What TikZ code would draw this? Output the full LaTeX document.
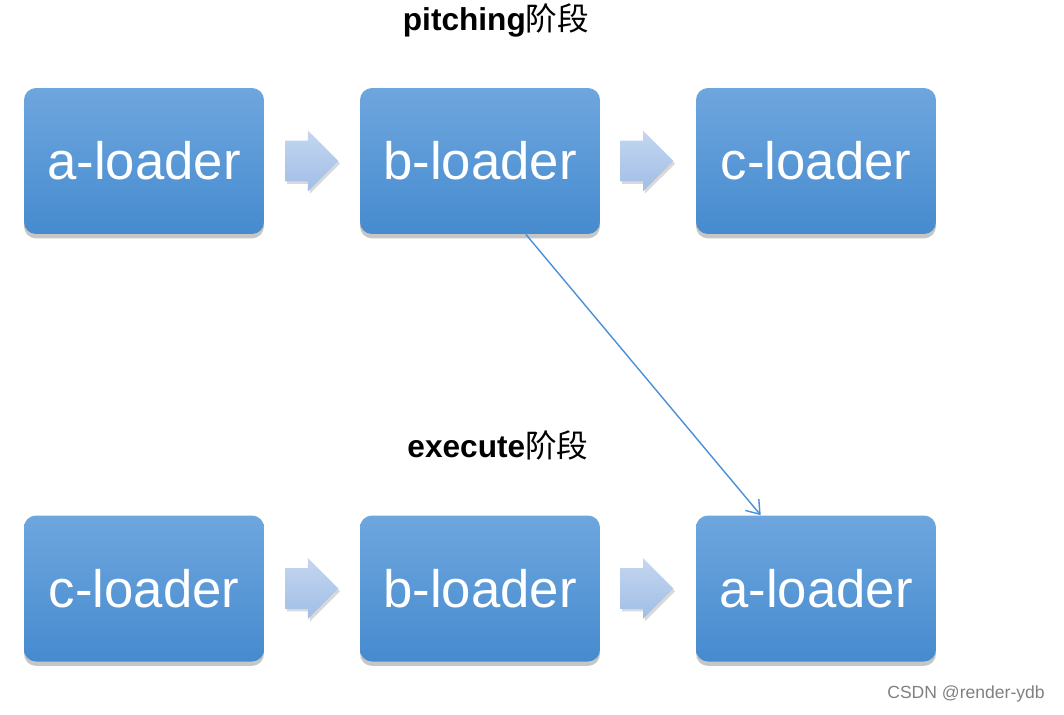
\documentclass[tikz,border=0pt]{standalone}
\usepackage{fontspec}
\setmainfont{Liberation Sans}
\newfontfamily\cjk{Noto Sans CJK SC}
\usetikzlibrary{shapes.arrows,shadows,arrows.meta}
\definecolor{boxtop}{RGB}{110,166,222}
\definecolor{boxbot}{RGB}{70,139,207}
\definecolor{arrtop}{RGB}{196,214,240}
\definecolor{arrbot}{RGB}{160,190,230}
\definecolor{linkblue}{RGB}{74,144,217}
\tikzset{
  loader/.style={rectangle, rounded corners=0.24cm, minimum width=4.8cm,
    minimum height=2.92cm, top color=boxtop, bottom color=boxbot,
    text=white, font=\fontsize{30}{35}\selectfont,
    drop shadow={opacity=0.45, shadow xshift=0pt, shadow yshift=-2.5pt}},
  flow/.style={single arrow, anchor=tail, inner xsep=0pt, inner ysep=0.4cm,
    minimum height=1.06cm, single arrow head extend=0.2cm,
    single arrow head indent=0pt, top color=arrtop, bottom color=arrbot,
    drop shadow={opacity=0.3, shadow xshift=1pt, shadow yshift=-1.5pt}},
  stage/.style={font=\fontsize{18}{21}\selectfont}
}
\begin{document}
\begin{tikzpicture}[x=0.02cm, y=-0.02cm]
  \useasboundingbox (0,0) rectangle (1064,714);
  % pitching
  \node[stage] (ptitle) at (496,20) {\bfseries pitching{\cjk\mdseries 阶段}};
  \node[loader] (pa) at (144,161) {a-loader};
  \node[loader] (pb) at (480,161) {b-loader};
  \node[loader] (pc) at (816,161) {c-loader};
  \node[flow] (pab) at (285,161) {};
  \node[flow] (pbc) at (620,161) {};
  % execute
  \node[stage] (etitle) at (498,445) {\bfseries execute{\cjk\mdseries 阶段}};
  \node[loader] (ec) at (144,588.5) {c-loader};
  \node[loader] (eb) at (480,588.5) {b-loader};
  \node[loader] (ea) at (816,588.5) {a-loader};
  \node[flow] (ecb) at (285,588.5) {};
  \node[flow] (eba) at (620,588.5) {};
  \draw[linkblue, line width=0.8pt, -{Straight Barb[length=7pt,width=10pt]}] (pb.-58) -- (ea.127.5);
  \node[anchor=east, text=gray, font=\fontsize{10}{12}\selectfont] (mark) at (1051,694) {CSDN @render-ydb};
\end{tikzpicture}
\end{document}
